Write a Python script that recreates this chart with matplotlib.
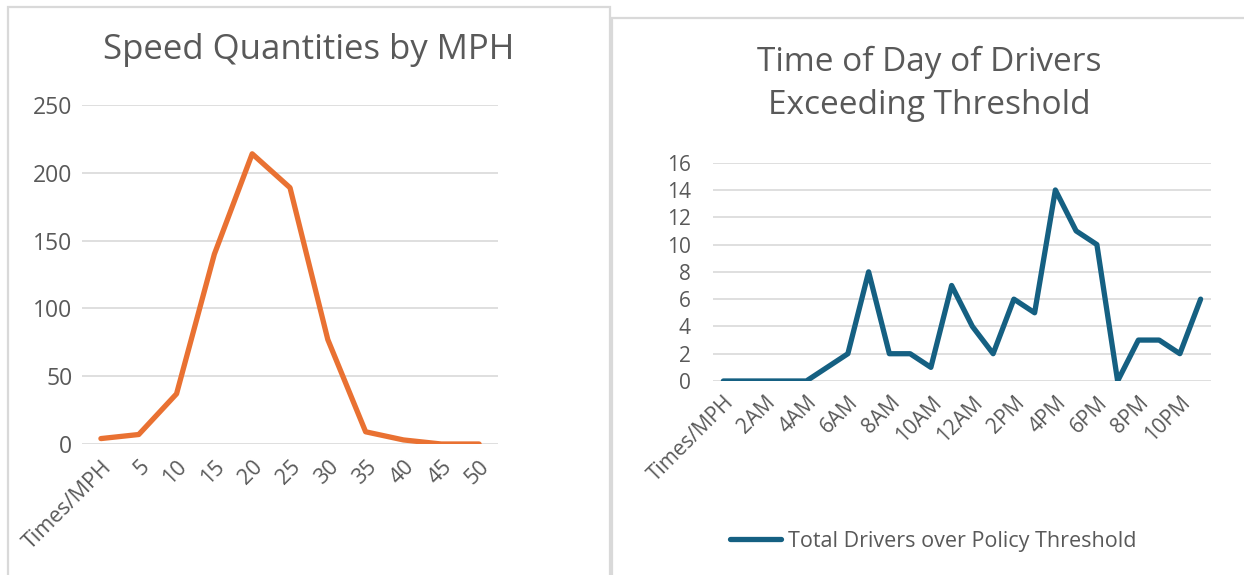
import matplotlib
matplotlib.use("Agg")
import matplotlib.pyplot as plt
from matplotlib.patches import Rectangle

# speed distribution
mph_labels = ["Times/MPH", "5", "10", "15", "20", "25", "30", "35", "40", "45", "50"]
mph_counts = [4, 7, 37, 140, 214, 189, 77, 9, 3, 0, 0]

# drivers over threshold by hour
hour_labels = ["Times/MPH", "1AM", "2AM", "3AM", "4AM", "5AM", "6AM", "7AM", "8AM", "9AM",
               "10AM", "11AM", "12AM", "1PM", "2PM", "3PM", "4PM", "5PM", "6PM", "7PM",
               "8PM", "9PM", "10PM", "11PM"]
hour_counts = [0, 0, 0, 0, 0, 1, 2, 8, 2, 2, 1, 7, 4, 2, 6, 5, 14, 11, 10, 0, 3, 3, 2, 6]

TXT = "#595959"
GRID = "#d9d9d9"
ORANGE = "#E97132"
BLUE = "#156082"

plt.rcParams['font.family'] = ['Open Sans', 'DejaVu Sans']

W, H = 1244, 575
fig = plt.figure(figsize=(W / 100, H / 100), dpi=100)


def px_rect(x0, y0, x1, y1):
    return Rectangle((x0 / W, 1 - y1 / H), (x1 - x0) / W, (y1 - y0) / H,
                     transform=fig.transFigure, fill=False, edgecolor=GRID, linewidth=1.6)


# panel borders
fig.patches.append(px_rect(8, 7, 610, 590))
fig.patches.append(px_rect(612, 18, 1260, 590))


def style_axes(ax, ymax, step, fs, pad):
    ax.set_ylim(0, ymax)
    ax.set_yticks(range(0, ymax + 1, step))
    ax.grid(axis='y', color=GRID, linewidth=1.2)
    ax.set_axisbelow(True)
    for s in ax.spines.values():
        s.set_visible(False)
    ax.tick_params(length=0, colors=TXT, labelsize=fs)
    ax.tick_params(axis='y', pad=pad)


# left chart
ax1 = fig.add_axes([82 / W, 1 - 444 / H, 416 / W, 339 / H])
ax1.plot(range(len(mph_counts)), mph_counts, color=ORANGE, linewidth=3.8,
         solid_capstyle='round', solid_joinstyle='round')
ax1.set_xlim(-0.5, len(mph_counts) - 0.5)
style_axes(ax1, 250, 50, 16.5, 7)
ax1.set_xticks(range(len(mph_labels)))
ax1.set_xticklabels(mph_labels, rotation=45, ha='right', rotation_mode='anchor',
                    fontsize=15.5)
ax1.tick_params(axis='x', pad=9)
fig.text(309 / W, 1 - 50 / H, "Speed Quantities by MPH", ha='center', va='center',
         fontsize=25, color=TXT)

# right chart
ax2 = fig.add_axes([713 / W, 1 - 381 / H, 498 / W, 218.3 / H])
ax2.plot(range(len(hour_counts)), hour_counts, color=BLUE, linewidth=3.8,
         solid_capstyle='round', solid_joinstyle='round',
         label="Total Drivers over Policy Threshold")
ax2.set_xlim(-0.5, len(hour_counts) - 0.5)
style_axes(ax2, 16, 2, 15, 16)
ax2.set_xticks(range(0, len(hour_labels), 2))
ax2.set_xticklabels(hour_labels[::2], rotation=45, ha='right', rotation_mode='anchor')
ax2.tick_params(axis='x', pad=8)
fig.text(929 / W, 1 - 84 / H, "Time of Day of Drivers\nExceeding Threshold", ha='center',
         va='center', fontsize=24, color=TXT, linespacing=1.38)

leg = ax2.legend(loc='center', bbox_to_anchor=(933 / W, 1 - 541 / H),
                 bbox_transform=fig.transFigure, frameon=False, fontsize=15.5,
                 handlelength=2.4, handletextpad=0.3)
for t in leg.get_texts():
    t.set_color(TXT)

fig.savefig("out.png", dpi=100)
